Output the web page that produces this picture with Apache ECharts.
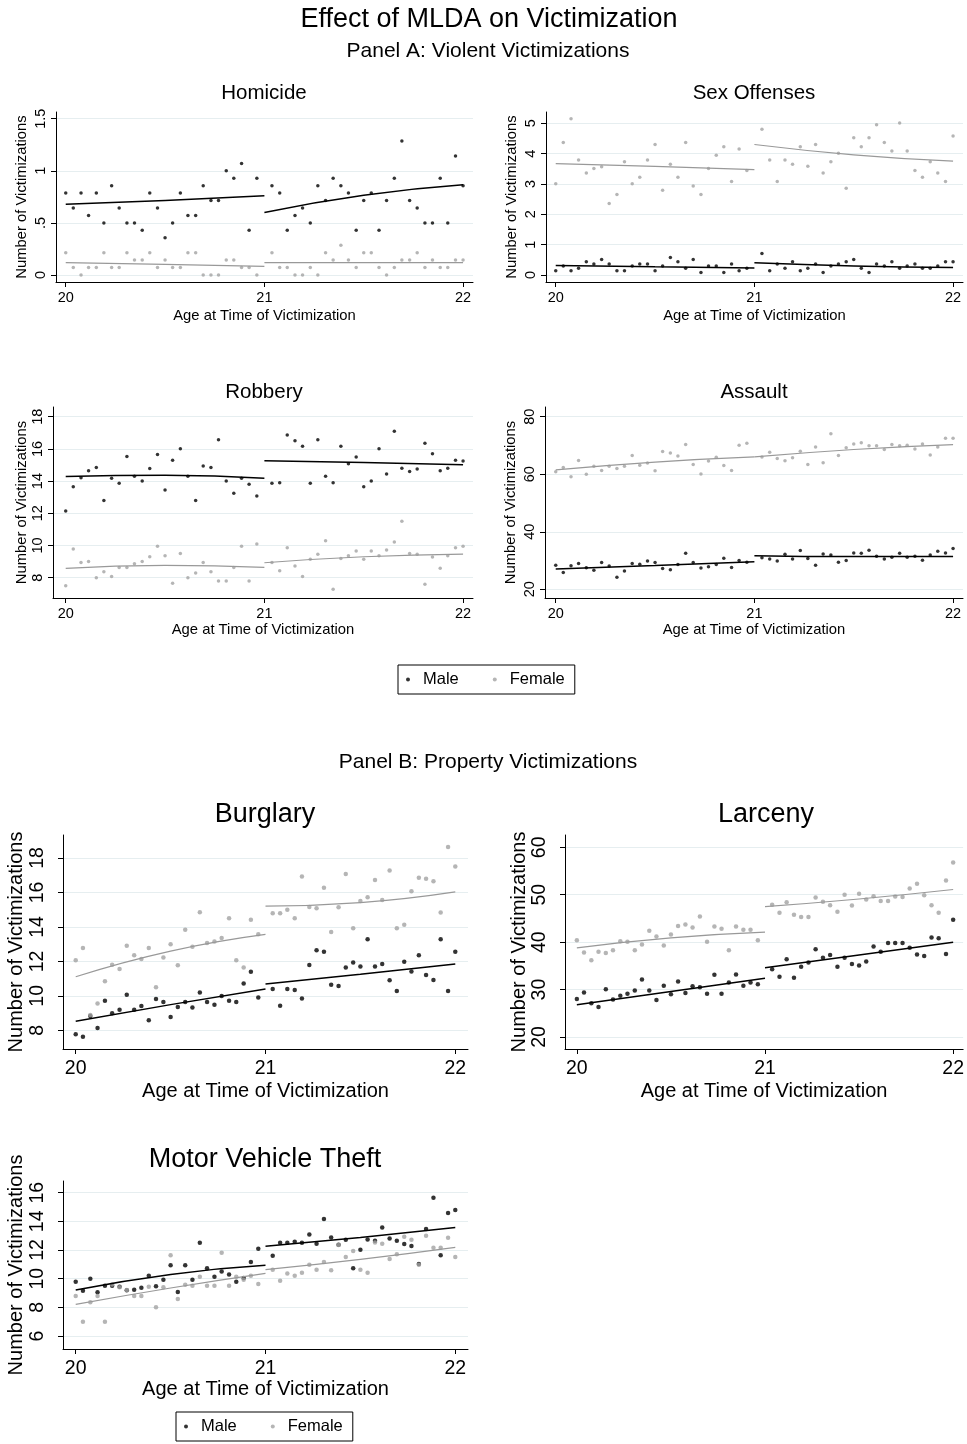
<!DOCTYPE html>
<html>
<head>
<meta charset="UTF-8">
<title>Effect of MLDA on Victimization</title>
<script src="https://cdn.jsdelivr.net/npm/echarts@6/dist/echarts.min.js"></script>
<style>html,body{margin:0;padding:0;background:#fff}</style>
</head>
<body>
<div id="main" style="width:967px;height:1444px;"></div>
<script>
// age bins (two-week cells), below and above 21
var ages = [20.000,20.038,20.077,20.115,20.154,20.192,20.231,20.269,20.308,20.346,20.385,20.423,20.462,20.500,20.538,20.577,20.615,20.654,20.692,20.731,20.769,20.808,20.846,20.885,20.923,20.962,
            21.038,21.077,21.115,21.154,21.192,21.231,21.269,21.308,21.346,21.385,21.423,21.462,21.500,21.538,21.577,21.615,21.654,21.692,21.731,21.769,21.808,21.846,21.885,21.923,21.962,22.000];
var fitXLeft = [20, 20.5, 21];
var fitXRight = [21, 21.5, 22];
var xTicks = [20, 21, 22];

// Panel A
var homMale = [0.786,0.643,0.786,0.571,0.786,0.5,0.857,0.643,0.5,0.5,0.429,0.786,0.643,0.357,0.5,0.786,0.571,0.571,0.857,0.714,0.714,1.0,0.929,1.071,0.429,0.929,
               0.857,0.786,0.429,0.571,0.643,0.5,0.857,0.714,0.929,0.857,0.786,0.429,0.714,0.786,0.429,0.714,0.929,1.286,0.714,0.643,0.5,0.5,0.929,0.5,1.143,0.857];
var homFemale = [0.214,0.071,0,0.071,0.071,0.214,0.071,0.071,0.214,0.143,0.143,0.214,0.071,0.143,0.071,0.071,0.214,0.214,0,0,0,0.143,0.143,0.071,0.071,0,
                 0.214,0.071,0.071,0,0,0.071,0,0.214,0.143,0.286,0.143,0.071,0.214,0.214,0.071,0,0.071,0.143,0.143,0.214,0.071,0.143,0.071,0.071,0.143,0.143];
var homFits = {maleL:[0.68,0.715,0.76], maleR:[0.60,0.765,0.865], femL:[0.118,0.103,0.083], femR:[0.118,0.118,0.118]};
var homTicks = [0, 0.5, 1, 1.5];
var homTickLabels = ['0', '.5', '1', '1.5'];

var sexMale = [0.14,0.30,0.14,0.22,0.44,0.36,0.51,0.36,0.14,0.14,0.30,0.36,0.36,0.14,0.30,0.58,0.44,0.22,0.51,0.08,0.30,0.30,0.08,0.36,0.14,0.22,
               0.71,0.14,0.36,0.22,0.44,0.14,0.22,0.36,0.08,0.30,0.36,0.44,0.51,0.22,0.08,0.36,0.30,0.44,0.22,0.30,0.36,0.22,0.22,0.30,0.44,0.44];
var sexFemale = [3.01,4.37,5.15,3.79,3.36,3.51,3.57,2.36,2.65,3.73,3.01,3.22,3.79,4.30,2.79,3.65,3.22,4.37,2.93,2.65,3.51,3.95,4.23,3.08,4.15,3.44,
                 4.80,3.79,3.08,3.79,3.65,4.23,3.58,4.30,3.36,3.73,4.01,2.86,4.52,4.23,4.52,4.95,4.37,4.09,5.01,4.09,3.44,3.22,3.73,3.36,3.08,4.58];
var sexFits = {maleL:[0.31,0.27,0.23], maleR:[0.40,0.30,0.25], femL:[3.67,3.58,3.47], femR:[4.30,3.96,3.75]};
var sexTicks = [0, 1, 2, 3, 4, 5];

var robMale = [12.14,13.65,14.21,14.65,14.85,12.8,14.17,13.86,15.52,14.3,14.0,14.79,15.65,13.44,15.29,16.01,14.3,12.8,14.94,14.85,16.57,14.0,13.24,14.17,13.8,13.07,
               13.86,13.9,16.87,16.5,16.16,13.86,16.57,14.3,13.9,16.16,15.07,15.5,13.65,14.0,16.01,14.44,17.09,14.8,14.6,14.75,16.35,15.7,14.65,14.8,15.3,15.25];
var robFemale = [7.5,9.78,8.95,9.01,8.0,8.37,8.08,8.64,8.64,8.87,9.01,9.3,9.95,9.37,7.65,9.51,8.0,8.29,8.95,8.37,7.79,7.79,8.64,9.95,7.79,10.09,
                 8.95,8.43,9.86,8.72,8.08,9.14,9.45,10.3,7.28,9.2,9.37,9.66,9.14,9.66,9.37,9.72,10.22,11.5,9.51,9.45,7.59,9.28,8.58,9.37,9.86,9.95];
var robFits = {maleL:[14.29,14.36,14.17], maleR:[15.27,15.16,15.02], femL:[8.58,8.77,8.64], femR:[8.93,9.30,9.47]};
var robTicks = [8, 10, 12, 14, 16, 18];

var aslMale = [28.4,25.8,28.2,29.0,27.5,26.6,29.3,28.1,24.2,26.4,29.0,28.7,29.8,29.3,27.2,26.8,28.6,32.5,29.3,27.4,27.8,28.6,30.8,27.6,30.0,29.4,
               31.0,30.5,29.8,32.2,30.5,33.5,30.7,28.4,32.3,31.9,29.4,30.0,32.6,32.5,33.6,31.5,30.5,31.1,32.5,31.1,31.5,30.1,31.9,33.2,32.6,34.2];
var aslFemale = [60.9,62.3,59.1,64.75,60.0,62.8,61.3,62.8,62.0,62.8,66.5,63.1,63.9,61.2,67.9,67.4,66.3,70.3,63.4,60.1,64.6,65.9,63.0,61.3,70.1,70.8,
                 66.0,67.6,65.5,64.7,65.7,68.0,63.4,69.5,64.0,74.1,66.5,69.2,70.5,70.9,69.9,69.9,68.6,70.3,69.9,70.1,68.8,70.5,66.7,69.5,72.5,72.5];
var aslFits = {maleL:[27.1,28.3,29.6], maleR:[31.7,31.4,31.4], femL:[61.5,64.2,66.0], femR:[66.0,68.6,70.3]};
var aslTicks = [20, 40, 60, 80];

// Panel B
var burMale = [7.77,7.63,8.83,8.14,9.72,8.99,9.2,10.07,9.2,9.41,8.58,9.82,9.64,8.77,9.35,9.64,9.33,10.2,9.64,9.49,9.99,9.72,9.64,10.71,11.4,9.91,
               10.4,9.43,10.4,10.34,9.84,11.79,12.64,12.56,10.65,10.57,11.64,11.93,11.71,13.28,11.71,11.85,10.9,10.28,11.98,11.42,12.35,11.21,10.92,13.28,10.28,12.56];
var burFemale = [12.06,12.78,8.89,9.55,10.85,11.81,11.56,12.91,12.35,12.14,12.78,10.5,12.22,12.99,11.77,13.84,12.85,14.85,13.07,13.15,13.36,14.5,12.06,11.64,14.42,13.57,
                 14.79,14.79,15.0,14.5,16.92,15.16,15.08,16.28,13.71,15.14,17.07,13.92,15.5,15.72,16.72,15.56,17.28,13.92,14.13,16.07,16.86,16.8,16.65,14.83,18.64,17.5];
var burFits = {maleL:[8.52,9.49,10.4], maleR:[10.69,11.25,11.85], femL:[11.11,12.6,13.57], femR:[15.21,15.41,16.03]};
var burTicks = [8, 10, 12, 14, 16, 18];

var larMale = [28.0,29.4,27.1,26.3,30.05,27.9,28.7,29.1,29.8,32.1,29.8,27.8,30.8,29.0,31.7,29.3,30.7,30.5,29.1,33.1,29.1,31.5,33.2,30.8,31.5,31.1,
               34.3,32.7,36.4,32.5,34.8,35.7,38.5,36.7,37.3,34.8,36.7,35.4,35.1,35.9,39.1,38.0,39.8,39.8,39.8,38.8,37.4,37.1,41.0,40.8,37.5,44.7];
var larFemale = [40.4,37.8,36.2,38.0,37.7,38.3,40.2,40.1,38.3,39.5,42.4,41.2,39.3,41.6,43.4,43.7,43.1,45.4,40.1,43.3,42.8,38.3,43.3,42.6,42.6,40.4,
                 47.9,46.2,48.4,45.8,45.3,45.3,49.4,48.5,47.8,46.4,50.0,47.7,50.2,49.0,49.7,48.7,48.7,49.6,49.5,51.3,52.3,49.9,47.8,46.2,53.0,56.8];
var larFits = {maleL:[26.8,29.6,32.4], maleR:[34.6,37.3,40.0], femL:[38.8,40.9,42.1], femR:[47.5,49.1,51.1]};
var larTicks = [20, 30, 40, 50, 60];

var mvtMale = [9.79,9.16,10.0,9.05,9.51,9.51,9.44,9.2,9.23,9.37,10.2,9.47,9.93,10.93,9.07,10.93,9.93,12.51,10.72,10.14,10.51,10.3,9.79,10.05,11.16,12.09,
               11.6,12.51,12.51,12.58,12.51,13.09,12.44,14.16,12.88,12.37,12.72,10.72,12.02,12.74,12.65,13.58,12.81,12.65,12.42,12.28,11.02,13.47,15.65,11.63,14.58,14.79];
var mvtFemale = [8.79,7.0,8.35,8.79,7.0,9.6,9.4,9.21,8.79,8.79,9.44,8.0,9.4,11.63,8.58,9.58,9.51,10.14,9.51,9.51,11.81,9.51,10.14,9.93,10.2,9.63,
                 10.63,9.86,10.37,10.2,10.42,10.98,10.63,11.16,10.58,12.35,11.51,11.93,10.63,10.42,12.53,12.44,11.37,11.7,12.93,12.72,10.98,13.0,12.16,12.16,12.86,11.51];
var mvtFits = {maleL:[9.21,10.3,10.93], maleR:[12.26,12.88,13.58], femL:[8.21,9.35,10.37], femR:[10.63,11.35,12.19]};
var mvtTicks = [6, 8, 10, 12, 14, 16];

var FONT = 'Liberation Sans, Arial, Helvetica, sans-serif';
var GRAY = '#a3a3a3';

var panels = [
  {name:'Homicide', male:homMale, female:homFemale, fits:homFits, ticks:homTicks, labels:homTickLabels,
   box:{left:56, top:112, width:417, height:170}, x:[19.951, 22.05], y:[-0.067, 1.564], big:false, tx:264, ty:83, yGap:27, xGap:26},
  {name:'Sex Offenses', male:sexMale, female:sexFemale, fits:sexFits, ticks:sexTicks,
   box:{left:546, top:112, width:417, height:170}, x:[19.951, 22.05], y:[-0.231, 5.372], big:false, tx:754, ty:83, yGap:27, xGap:26},
  {name:'Robbery', male:robMale, female:robFemale, fits:robFits, ticks:robTicks,
   box:{left:53, top:407, width:420, height:191}, x:[19.936, 22.05], y:[6.739, 18.602], big:false, tx:264, ty:382, yGap:24, xGap:24},
  {name:'Assault', male:aslMale, female:aslFemale, fits:aslFits, ticks:aslTicks,
   box:{left:545, top:407, width:418, height:191}, x:[19.946, 22.05], y:[16.976, 83.37], big:false, tx:754, ty:382, yGap:27, xGap:24},
  {name:'Burglary', male:burMale, female:burFemale, fits:burFits, ticks:burTicks,
   box:{left:63, top:835, width:405, height:214}, x:[19.933, 22.067], y:[6.915, 19.335], big:true, tx:265, ty:801, yGap:37, xGap:32},
  {name:'Larceny', male:larMale, female:larFemale, fits:larFits, ticks:larTicks,
   box:{left:565, top:835, width:402, height:214}, x:[19.937, 22.053], y:[17.47, 62.59], big:true, tx:766, ty:801, yGap:36, xGap:32},
  {name:'Motor Vehicle Theft', male:mvtMale, female:mvtFemale, fits:mvtFits, ticks:mvtTicks,
   box:{left:63, top:1181, width:405, height:168}, x:[19.933, 22.067], y:[5.093, 16.817], big:true, tx:265, ty:1146, yGap:37, xGap:30}
];

function pairs(xs, ys) {
  return xs.map(function (x, i) { return [x, ys[i]]; });
}

var titles = [
  {text:'Effect of MLDA on Victimization', left:489, top:6, textAlign:'center', padding:0,
   textStyle:{fontFamily:FONT, fontSize:27, fontWeight:'normal', color:'#000'}},
  {text:'Panel A: Violent Victimizations', left:488, top:41, textAlign:'center', padding:0,
   textStyle:{fontFamily:FONT, fontSize:21, fontWeight:'normal', color:'#000'}},
  {text:'Panel B: Property Victimizations', left:488, top:752, textAlign:'center', padding:0,
   textStyle:{fontFamily:FONT, fontSize:21, fontWeight:'normal', color:'#000'}}
];
var grids = [], xAxes = [], yAxes = [], series = [];

panels.forEach(function (p, i) {
  var tickFont = p.big ? 19.5 : 14.5;
  var nameFont = p.big ? 20 : 14.8;
  var dot = p.big ? 4.5 : 3.5;
  titles.push({text:p.name, left:p.tx, top:p.ty, textAlign:'center', padding:0,
    textStyle:{fontFamily:FONT, fontSize:p.big ? 27 : 20.5, fontWeight:'normal', color:'#000'}});
  grids.push(Object.assign({containLabel:false}, p.box));
  xAxes.push({
    type:'value', gridIndex:i, min:p.x[0], max:p.x[1],
    name:'Age at Time of Victimization', nameLocation:'middle', nameGap:p.xGap,
    nameTextStyle:{fontFamily:FONT, fontSize:nameFont, color:'#000'},
    axisLine:{onZero:false, lineStyle:{color:'#000', width:1}},
    axisTick:{customValues:xTicks, length:5, lineStyle:{color:'#000'}},
    axisLabel:{customValues:xTicks, margin:p.big ? 10 : 8, fontFamily:FONT, fontSize:tickFont, color:'#000'},
    splitLine:{show:false}
  });
  var labels = p.labels;
  yAxes.push({
    type:'value', gridIndex:i, min:p.y[0], max:p.y[1],
    name:'Number of Victimizations', nameLocation:'middle', nameRotate:90, nameGap:p.yGap,
    nameTextStyle:{fontFamily:FONT, fontSize:nameFont, color:'#000'},
    axisLine:{show:true, onZero:false, lineStyle:{color:'#000', width:1}},
    axisTick:{show:true, customValues:p.ticks, length:5, lineStyle:{color:'#000'}},
    axisLabel:{customValues:p.ticks, rotate:90, margin:p.big ? 15 : 8, fontFamily:FONT, fontSize:tickFont, color:'#000',
      formatter:function (v) {
        if (labels) { var k = p.ticks.indexOf(v); if (k >= 0) return labels[k]; }
        return String(v);
      }},
    splitLine:{show:true, lineStyle:{color:'#e6eef0', width:1}}
  });
  series.push({name:'Male', type:'scatter', xAxisIndex:i, yAxisIndex:i, data:pairs(ages, p.male),
    symbolSize:dot, itemStyle:{color:'#000'}, silent:true});
  series.push({name:'Female', type:'scatter', xAxisIndex:i, yAxisIndex:i, data:pairs(ages, p.female),
    symbolSize:dot, itemStyle:{color:GRAY}, silent:true});
  var fitDefs = [
    ['maleL', fitXLeft, '#000', 1.5], ['maleR', fitXRight, '#000', 1.5],
    ['femL', fitXLeft, '#999', 1.2], ['femR', fitXRight, '#999', 1.2]
  ];
  fitDefs.forEach(function (f) {
    series.push({name:'fit ' + f[0], type:'line', xAxisIndex:i, yAxisIndex:i,
      data:pairs(f[1], p.fits[f[0]]), smooth:true, showSymbol:false, symbol:'none',
      lineStyle:{color:f[2], width:f[3]}, silent:true});
  });
});

function legendAt(left, top) {
  return {
    data:['Male', 'Female'], left:left, top:top, orient:'horizontal',
    icon:'circle', itemWidth:4, itemHeight:4, itemGap:34,
    padding:[6, 10, 6, 8], borderColor:'#000', borderWidth:1, borderRadius:0,
    backgroundColor:'#fff', selectedMode:false,
    textStyle:{fontFamily:FONT, fontSize:16.5, color:'#000', padding:[0, 0, 0, 8]}
  };
}

var chart = echarts.init(document.getElementById('main'), null, {renderer:'canvas'});
chart.setOption({
  animation:false,
  backgroundColor:'#fff',
  title:titles,
  legend:[legendAt(398, 665), legendAt(176, 1412)],
  grid:grids,
  xAxis:xAxes,
  yAxis:yAxes,
  series:series
});
</script>
</body>
</html>
